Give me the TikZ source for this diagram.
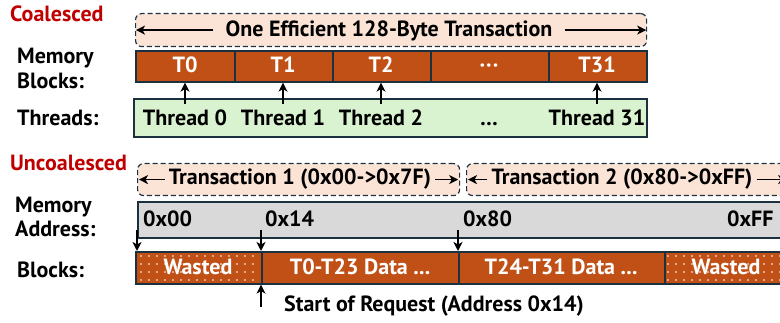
\documentclass[tikz,border=0pt]{standalone}
\usepackage{fontspec}
\setmainfont{PT Sans}
\usetikzlibrary{arrows.meta,calc}
\definecolor{rust}{HTML}{C05016}
\definecolor{edge}{HTML}{1C3140}
\definecolor{peach}{HTML}{FBE3D6}
\definecolor{mint}{HTML}{D9F2D0}
\definecolor{greybar}{HTML}{D9D9D9}
\definecolor{title}{HTML}{C00000}
\begin{document}
\begin{tikzpicture}[x=1pt,y=-1pt,
  every node/.style={font=\fontsize{22}{24}\selectfont\bfseries, inner sep=0pt},
  lbl/.style={anchor=base west},
  ttl/.style={anchor=base west, text=title},
  blk/.style={draw=edge, line width=1.6pt, fill=rust, text=white, minimum height=31pt, anchor=north west},
  tbox/.style={draw=edge, line width=1.2pt, dash pattern=on 5pt off 3pt, rounded corners=6pt, fill=peach, anchor=north west},
  wtxt/.style={text=white, anchor=base},
  btxt/.style={anchor=base},
  arr/.style={line width=1.5pt, -{Stealth[length=9pt,width=9pt,inset=2.5pt]}},
]
\useasboundingbox (0,0) rectangle (780,323);
\clip (0,0) rectangle (780,323);

% ---------- Coalesced ----------
\node[ttl] (coal) at (10,22) {Coalesced};
\node[lbl] (memA) at (17,64) {Memory};
\node[lbl] (blkA) at (17,89) {Blocks:};
\node[lbl] (thrA) at (17,126) {Threads:};

\node[tbox, minimum width=511pt, minimum height=33pt] (tx) at (135,13) {};
\node[btxt] (txt) at (389,37) {One Efficient 128-Byte Transaction};
\draw[arr] ([xshift=-12pt]txt.west |- tx.west) -- ([xshift=1pt]tx.west);
\draw[arr] ([xshift=12pt]txt.east |- tx.east) -- ([xshift=-1pt]tx.east);

\node[blk, minimum width=99pt] (b0) at (135,50) {};
\node[blk, minimum width=98pt] (b1) at (234,50) {};
\node[blk, minimum width=98pt] (b2) at (332,50) {};
\node[blk, minimum width=118pt] (b3) at (430,50) {};
\node[blk, minimum width=98pt] (b4) at (548,50) {};
\node[wtxt] (l0) at (185,73) {T0};
\node[wtxt] (l1) at (283,73) {T1};
\node[wtxt] (l2) at (381,73) {T2};
\node[wtxt] (l3) at (489,73) {·\kern1pt·\kern1pt·};
\node[wtxt] (l4) at (597,73) {T31};

\node[draw=edge, line width=1.6pt, fill=mint, minimum width=513pt, minimum height=38pt, anchor=north west] (thr) at (133,98) {};
\node[btxt] (t0) at (185,126) {Thread 0};
\node[btxt] (t1) at (283,126) {Thread 1};
\node[btxt] (t2) at (381,126) {Thread 2};
\node[btxt] (t3) at (489,126) {\ldots};
\node[btxt] (t4) at (597,126) {Thread 31};
\foreach \i in {0,1,2,4}{
  \draw[arr] ([yshift=-6pt]thr.north -| t\i) -- (b\i.south -| t\i);
}

% ---------- Uncoalesced ----------
\node[ttl] (unc) at (10,171) {Uncoalesced};
\node[lbl] (memB) at (15,213) {Memory};
\node[lbl] (adrB) at (15,237) {Address:};
\node[lbl] (blkB) at (17,278) {Blocks:};

\node[tbox, minimum width=322pt, minimum height=32pt] (ta) at (137,163) {};
\node[btxt] (tat) at (300,185) {Transaction 1 (0x00->0x7F)};
\draw[arr] ([xshift=-4pt]tat.west |- ta.west) -- ([xshift=2pt]ta.west);
\draw[arr] ([xshift=4pt]tat.east |- ta.east) -- ([xshift=-2pt]ta.east);

\node[tbox, minimum width=322pt, minimum height=32pt] (tb) at (466,163) {};
\node[btxt] (tbt) at (622,185) {Transaction 2 (0x80->0xFF)};
\draw[arr] ([xshift=-4pt]tbt.west |- tb.west) -- ([xshift=2pt]tb.west);
\draw[arr] ([xshift=4pt]tbt.east |- tb.east) -- ([xshift=-2pt]tb.east);

\node[draw=edge, line width=1.6pt, fill=greybar, minimum width=660pt, minimum height=36pt, anchor=north west] (addr) at (137,201) {};
\node[lbl] (a0) at (143,227) {0x00};
\node[lbl] (a1) at (265,227) {0x14};
\node[lbl] (a2) at (463,227) {0x80};
\node[lbl] (a3) at (727,227) {0xFF};

\node[blk, minimum width=126pt, minimum height=32pt] (w1) at (135,251) {};
\node[blk, minimum width=197pt, minimum height=32pt] (d1) at (261,251) {};
\node[blk, minimum width=206pt, minimum height=32pt] (d2) at (458,251) {};
\node[blk, minimum width=130pt, minimum height=32pt] (w2) at (664,251) {};
\foreach \x in {141,149,...,257}{\foreach \y in {256,264,272,280}{\fill[white] (\x,\y) circle (0.8pt);}}
\foreach \x in {668,676,...,780}{\foreach \y in {256,264,272,280}{\fill[white] (\x,\y) circle (0.8pt);}}
\node[wtxt] (wl1) at (198,275) {Wasted};
\node[wtxt] (dl1) at (360,275) {T0-T23 Data ...};
\node[wtxt] (dl2) at (561,275) {T24-T31 Data ...};
\node[wtxt] (wl2) at (726,275) {Wasted};

\coordinate (p0) at (137,230);
\coordinate (p1) at (261,230);
\coordinate (p2) at (458,230);
\draw[arr] (p0) -- (p0 |- w1.north);
\draw[arr] (p1) -- (p1 |- d1.north);
\draw[arr] (p2) -- (p2 |- d2.north);

\node[anchor=base west] (sr) at (284,312) {Start of Request (Address 0x14)};
\coordinate (q1) at (261,307);
\draw[arr] (q1) -- (q1 |- d1.south);
\end{tikzpicture}
\end{document}
